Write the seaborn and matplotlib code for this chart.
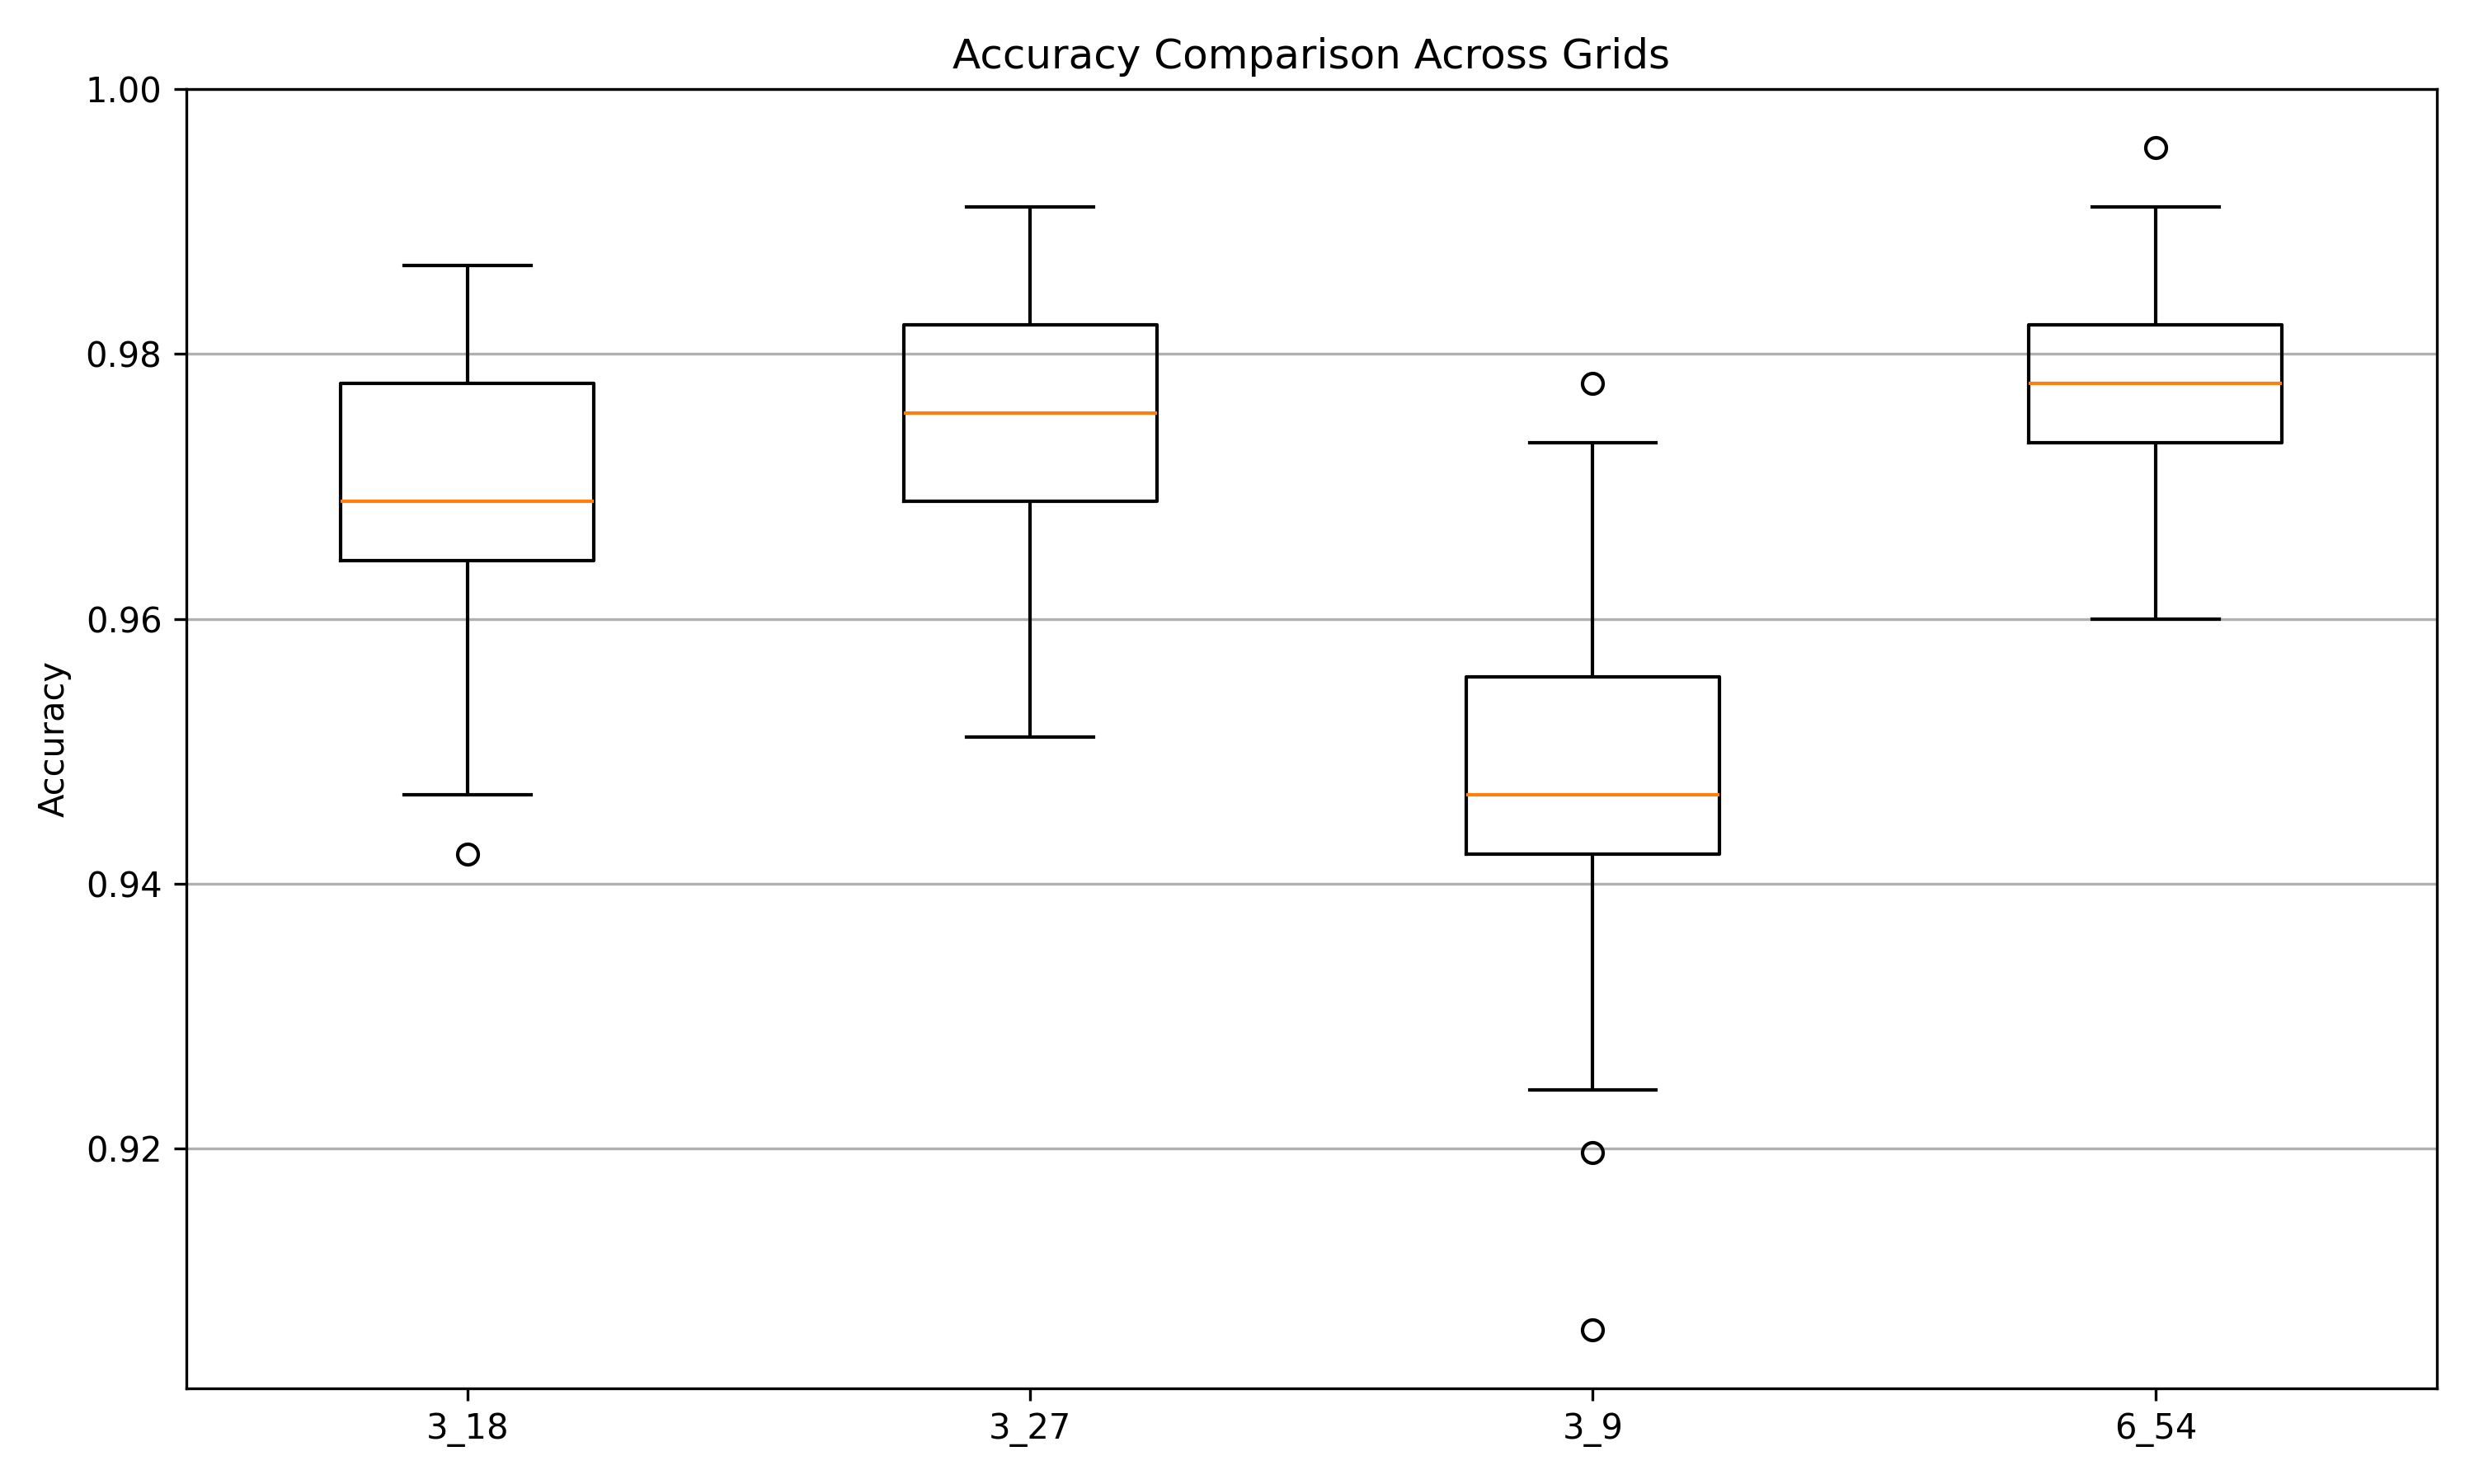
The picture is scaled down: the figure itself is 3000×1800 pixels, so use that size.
import matplotlib.pyplot as plt
import seaborn as sns
import pandas as pd

# accuracy per run
grids = ['3_18', '3_27', '3_9', '6_54']

acc_3_18 = [0.9422, 0.9467, 0.9556, 0.9600, 0.9644, 0.9644, 0.9644, 0.9689, 0.9689, 0.9689,
            0.9689, 0.9733, 0.9733, 0.9778, 0.9778, 0.9778, 0.9822, 0.9822, 0.9867, 0.9867]
acc_3_27 = [0.9511, 0.9556, 0.9600, 0.9644, 0.9689, 0.9689, 0.9689, 0.9733, 0.9733, 0.9733,
            0.9778, 0.9778, 0.9778, 0.9822, 0.9822, 0.9822, 0.9867, 0.9867, 0.9911, 0.9911]
acc_3_9 = [0.9063, 0.9197, 0.9244, 0.9333, 0.9422, 0.9422, 0.9422, 0.9467, 0.9467, 0.9467,
           0.9467, 0.9511, 0.9511, 0.9556, 0.9556, 0.9556, 0.9600, 0.9644, 0.9733, 0.9778]
acc_6_54 = [0.9600, 0.9644, 0.9689, 0.9689, 0.9733, 0.9733, 0.9733, 0.9778, 0.9778, 0.9778,
            0.9778, 0.9778, 0.9822, 0.9822, 0.9822, 0.9822, 0.9867, 0.9867, 0.9911, 0.9956]

df = pd.concat([
    pd.DataFrame({'grid': g, 'accuracy': a})
    for g, a in zip(grids, [acc_3_18, acc_3_27, acc_3_9, acc_6_54])
])

fig, ax = plt.subplots(figsize=(10, 6), dpi=300)
sns.boxplot(data=df, x='grid', y='accuracy', order=grids, ax=ax,
            fill=False, color='black', linewidth=1.0, width=0.45,
            medianprops={'color': '#ff7f0e', 'linewidth': 1.0},
            flierprops={'marker': 'o', 'markerfacecolor': 'none',
                        'markeredgecolor': 'black', 'markersize': 6,
                        'markeredgewidth': 1.0})

ax.set_ylim(0.9019, 1.0)
ax.yaxis.grid(True, color='#b0b0b0', linewidth=0.8)
ax.set_title('Accuracy Comparison Across Grids')
ax.set_xlabel('')
ax.set_ylabel('Accuracy')

plt.tight_layout()
plt.savefig('out.png', dpi=300)
